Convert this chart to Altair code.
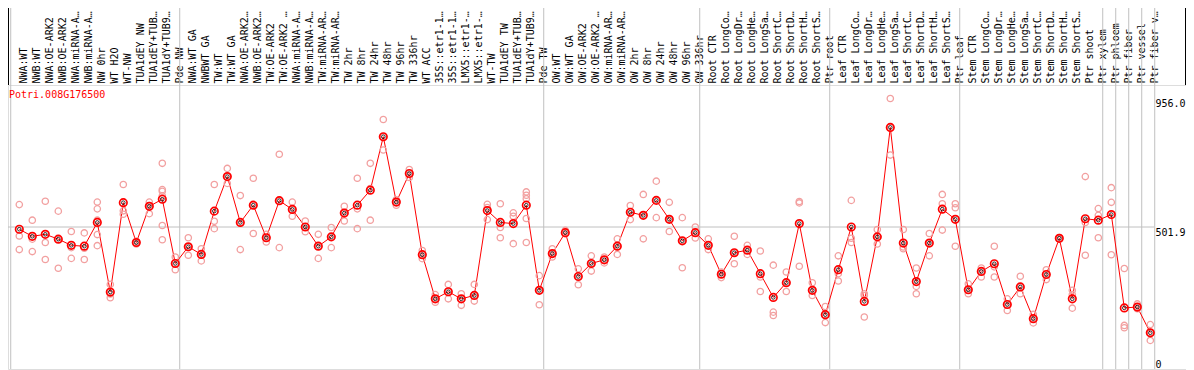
import json
import altair as alt
import pandas as pd

gene_id = "Potri.008G176500"

labels = [
    "NWA:WT", "NWB:WT", "NWA:OE-ARK2", "NWB:OE-ARK2", "NWA:miRNA-ARK2", "NWB:miRNA-ARK2",
    "NW 0hr", "WT H2O", "WT-NW", "TUA1dEY NW", "TUA1dEY+TUB15 NW", "TUA1dY+TUB9 NW", "Pde NW",
    "NWA:WT GA", "NWBWT GA", "TW:WT", "TW:WT GA", "NWA:OE-ARK2 GA", "NWB:OE-ARK2 GA",
    "TW:OE-ARK2", "TW:OE-ARK2 GA", "NWA:miRNA-ARK2 GA", "NWB:miRNA-ARK2 GA", "TW:miRNA-ARK2",
    "TW:miRNA-ARK2 GA", "TW 2hr", "TW 8hr", "TW 24hr", "TW 48hr", "TW 96hr", "TW 336hr",
    "WT ACC", "35S::etr1-1 H2O", "35S::etr1-1 ACC", "LMX5::etr1-1 H2O", "LMX5::etr1-1 ACC",
    "WT-TW", "TUA1dEY TW", "TUA1dEY+TUB15 TW", "TUA1dY+TUB9 TW", "Pde TW",
    "OW:WT", "OW:WT GA", "OW:OE-ARK2", "OW:OE-ARK2 GA", "OW:miRNA-ARK2", "OW:miRNA-ARK2 GA",
    "OW 2hr", "OW 8hr", "OW 24hr", "OW 48hr", "OW 96hr", "OW 336hr",
    "Root CTR", "Root LongCold", "Root LongDrought", "Root LongHeat", "Root LongSalt",
    "Root ShortCold", "Root ShortDrought", "Root ShortHeat", "Root ShortSalt", "Ptr root",
    "Leaf CTR", "Leaf LongCold", "Leaf LongDrought", "Leaf LongHeat", "Leaf LongSalt",
    "Leaf ShortCold", "Leaf ShortDrought", "Leaf ShortHeat", "Leaf ShortSalt", "Ptr leaf",
    "Stem CTR", "Stem LongCold", "Stem LongDrought", "Stem LongHeat", "Stem LongSalt",
    "Stem ShortCold", "Stem ShortDrought", "Stem ShortHeat", "Stem ShortSalt", "Ptr shoot",
    "Ptr xylem", "Ptr phloem", "Ptr fiber", "Ptr vessel", "Ptr fiber vessel",
]

means = [
    494, 469, 476, 459, 437, 434, 518, 272, 588, 447,
    575, 600, 373, 432, 405, 558, 680, 518, 579, 464,
    595, 564, 502, 434, 467, 551, 579, 632, 821, 590,
    691, 404, 248, 273, 248, 260, 560, 518, 514, 579,
    278, 408, 482, 327, 373, 386, 434, 554, 543, 596,
    529, 453, 482, 437, 335, 411, 420, 337, 253, 305,
    514, 278, 192, 351, 502, 239, 467, 854, 445, 309,
    445, 565, 529, 280, 345, 372, 228, 290, 178, 334,
    462, 248, 531, 526, 546, 216, 219, 128,
]

replicates = [
    [581, 470, 422], [526, 459, 415], [593, 447, 387], [558, 459, 356], [486, 429, 391],
    [481, 427, 387], [590, 566, 526, 475, 436], [299, 252, 265], [652, 559, 547], [452, 447, 442],
    [590, 578, 549], [727, 634, 628, 612, 507, 457], [396, 373, 351], [464, 432, 402], [425, 405, 382],
    [652, 522, 496], [709, 680, 656], [613, 518, 422], [674, 579, 479], [476, 464, 449],
    [759, 595, 429], [590, 564, 540], [523, 502, 485], [476, 434, 391], [500, 467, 429],
    [575, 551, 523], [674, 566, 496], [727, 638, 526], [882, 821, 774], [598, 590, 579],
    [705, 691, 677], [419, 404, 390], [263, 248, 236], [299, 273, 248], [266, 248, 225],
    [299, 260, 240], [582, 571, 528], [584, 500, 464], [552, 540, 443], [626, 614, 602, 532, 447],
    [330, 278, 227], [425, 408, 396], [490, 482, 478], [354, 327, 298], [400, 373, 346],
    [396, 386, 375], [460, 434, 405], [578, 554, 528], [617, 543, 460], [664, 596, 535],
    [589, 529, 486], [535, 453, 358], [502, 482, 463], [460, 437, 422], [343, 335, 323],
    [469, 411, 372], [437, 420, 405], [417, 325, 274], [367, 201, 189], [343, 305, 274],
    [592, 587, 363], [305, 278, 260], [221, 192, 164], [400, 337, 311], [596, 447, 462],
    [266, 260, 184], [493, 467, 442], [956, 854, 756], [493, 431, 425], [357, 292, 266],
    [479, 445, 400], [617, 584, 491], [584, 570, 434], [301, 280, 266], [357, 345, 325],
    [434, 361, 325], [248, 228, 207], [328, 290, 266], [193, 178, 163], [351, 334, 316],
    [465, 462, 458], [278, 263, 215], [680, 518, 402], [567, 543, 464], [641, 589, 404],
    [355, 154, 146], [230, 219, 213], [157, 128, 101],
]

group_starts = [0, 13, 41, 53, 63, 73, 84, 85, 86, 87, 88]
axis_values = [0, 501.9, 956.0]
mean_line = 501.9
y_max = 1003.8

W, H = 1178, 284
RED = "#ff0000"
PINK = "#f2a0a0"
GRAY = "#c0c0c0"
FONT = "DejaVu Sans Mono"

mean_df = pd.DataFrame({"idx": list(range(len(labels))), "label": labels, "mean": means})
rep_df = pd.DataFrame(
    [{"idx": i, "value": v} for i, reps in enumerate(replicates) for v in reps]
)
sep_df = pd.DataFrame({"start": group_starts})

x_scale = alt.Scale(domain=[-0.8692, 89.746], nice=False, zero=False)
y_scale = alt.Scale(domain=[0, y_max], nice=False, zero=True)

label_expr = json.dumps(labels) + "[datum.value]"

top_axis = alt.Axis(
    orient="top", values=list(range(len(labels))), labelExpr=label_expr,
    labelAngle=-90, labelAlign="left", labelBaseline="middle", labelPadding=2,
    labelOffset=4,
    labelFont=FONT, labelFontSize=10, labelColor="black", labelOverlap=False,
    labelFlush=False, labelLimit=74, ticks=False, domain=False, grid=False, title=None,
)

right_axis = alt.Axis(
    orient="right", values=axis_values,
    labelExpr="datum.value == 0 ? '0' : format(datum.value, '.1f')",
    labelAlign="left",
    labelBaseline={"condition": {"test": "datum.value == 0", "value": "bottom"}, "value": "top"},
    labelPadding=0, offset=-31, labelFont=FONT, labelFontSize=10, labelColor="black",
    ticks=False, domain=False, grid=False, title=None, labelFlush=False, labelOverlap=False,
)


def xq(field):
    return alt.X(field, type="quantitative", scale=x_scale, axis=top_axis)


def yq(field):
    return alt.Y(field, type="quantitative", scale=y_scale, axis=right_axis)


seps = alt.Chart(sep_df).transform_calculate(sep="datum.start - 0.66").mark_rule(
    color=GRAY, strokeWidth=1
).encode(
    x=xq("sep"),
    y=alt.value(-77), y2=alt.value(H),
)

frame_l = alt.Chart(sep_df.head(1)).mark_rule(color="black", strokeWidth=1).encode(
    x=alt.value(0.5), y=alt.value(-77), y2=alt.value(0)
)
frame_r = alt.Chart(sep_df.head(1)).mark_rule(color="black", strokeWidth=1).encode(
    x=alt.value(W - 0.5), y=alt.value(-77), y2=alt.value(0)
)

grid = alt.Chart(pd.DataFrame({"v": [mean_line]})).mark_rule(color=GRAY, strokeWidth=1).encode(
    y=yq("v"),
    x=alt.value(0), x2=alt.value(1146),
)

line = alt.Chart(mean_df).mark_line(color=RED, strokeWidth=1).encode(
    x=xq("idx"),
    y=yq("mean"),
)

reps = alt.Chart(rep_df).mark_point(
    shape="circle", filled=False, color=PINK, size=40, strokeWidth=1.3, opacity=1
).encode(
    x=xq("idx"),
    y=yq("value"),
)

mean_in = alt.Chart(mean_df).mark_point(
    shape="circle", filled=False, color="black", size=13, strokeWidth=0.8, opacity=1
).encode(
    x=xq("idx"),
    y=yq("mean"),
)

mean_out = alt.Chart(mean_df).mark_point(
    shape="circle", filled=False, color=RED, size=56, strokeWidth=1.7, opacity=1
).encode(
    x=xq("idx"),
    y=yq("mean"),
)

title = alt.Chart(pd.DataFrame({"t": [gene_id]})).mark_text(
    align="left", baseline="top", font=FONT, fontSize=10, color=RED
).encode(
    text="t:N", x=alt.value(1), y=alt.value(5),
)

chart = alt.layer(
    seps, frame_l, frame_r, grid, line, reps, mean_in, mean_out, title
).properties(
    width=W, height=H,
    autosize=alt.AutoSizeParams(type="none"),
    padding={"left": 0, "top": 77, "right": 0, "bottom": 1},
).configure_view(
    stroke="black", strokeWidth=1
).configure(background="white")

chart.save("out.html", embed_options={"renderer": "svg", "actions": False})
